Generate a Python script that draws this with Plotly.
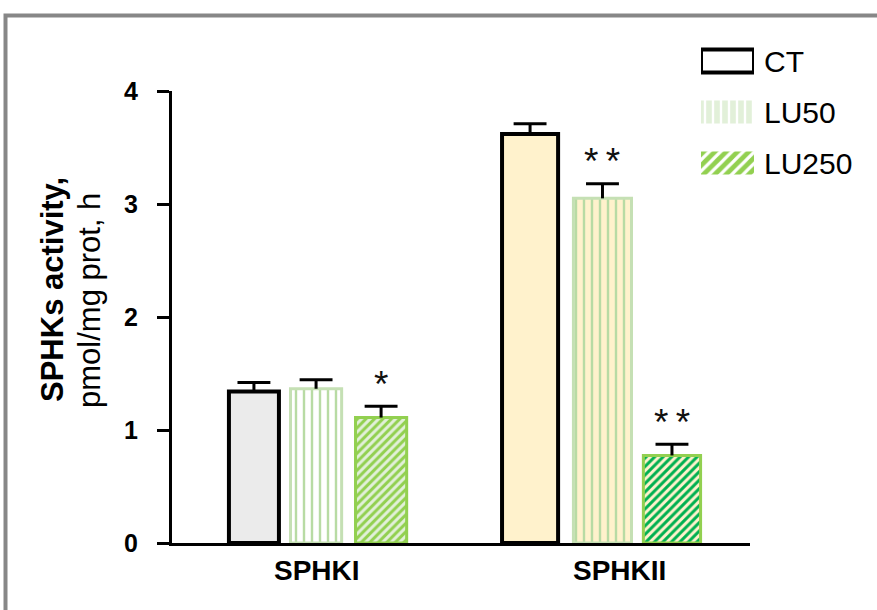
import plotly.graph_objects as go

# ---- data ----
categories = ["SPHKI", "SPHKII"]
series_names = ["CT", "LU50", "LU250"]
ct_values = [1.34, 3.62]
ct_errors = [0.08, 0.09]
lu50_values = [1.365, 3.05]
lu50_errors = [0.08, 0.13]
lu250_values = [1.11, 0.775]
lu250_errors = [0.10, 0.10]
ct_marks = ["", ""]
lu50_marks = ["", "*\u2009*"]
lu250_marks = ["*", "*\u2009*"]
y_ticks = [0, 1, 2, 3, 4]

FONT = "Arial, Liberation Sans, sans-serif"

fig = go.Figure()

bar_specs = [
    dict(name="CT", values=ct_values, errors=ct_errors, marks=ct_marks,
         offset=[-0.303, -0.358], width=[0.173, 0.194],
         marker=dict(color=["#ebebeb", "#fff2cc"],
                     line=dict(color="black", width=4))),
    dict(name="LU50", values=lu50_values, errors=lu50_errors, marks=lu50_marks,
         offset=[-0.09, -0.111], width=[0.177, 0.201],
         marker=dict(color="white",
                     line=dict(color="#c5e0b4", width=3),
                     pattern=dict(shape="|", bgcolor=["white", "#fff2cc"],
                                  fgcolor=["#b8dba4", "#b8dba4"], fgopacity=1,
                                  size=8, solidity=0.3))),
    dict(name="LU250", values=lu250_values, errors=lu250_errors, marks=lu250_marks,
         offset=[0.135, 0.131], width=[0.177, 0.198],
         marker=dict(color="#92d050",
                     line=dict(color="#92d050", width=3),
                     pattern=dict(shape="/", bgcolor=["#92d050", "#fff2cc"],
                                  fgcolor=["#e2f0d9", "#00b050"], fgopacity=1,
                                  size=6, solidity=0.5))),
]

annotations = []
for spec in bar_specs:
    centers = [i + o + w / 2 for i, (o, w) in enumerate(zip(spec["offset"], spec["width"]))]
    tops = [v + e for v, e in zip(spec["values"], spec["errors"])]
    # bars with the error stem (no caps)
    fig.add_trace(go.Bar(
        x=categories, y=spec["values"], name=spec["name"], showlegend=False,
        offset=spec["offset"], width=spec["width"], marker=spec["marker"],
        error_y=dict(type="data", symmetric=False, array=spec["errors"],
                     arrayminus=[0] * len(categories),
                     color="black", thickness=3, width=0),
        xaxis="x", yaxis="y",
    ))
    # upper caps of the error bars
    fig.add_trace(go.Scatter(
        x=centers, y=tops, mode="markers", showlegend=False, hoverinfo="skip",
        marker=dict(symbol="line-ew", size=23.5, color="black",
                    line=dict(color="black", width=3)),
        xaxis="x3", yaxis="y",
    ))
    for c, t, m in zip(centers, tops, spec["marks"]):
        if m:
            annotations.append(dict(
                x=c, y=t, xref="x3", yref="y", text=m, showarrow=False,
                xanchor="center", yanchor="middle", yshift=22,
                font=dict(family=FONT, size=37, color="#111"),
            ))

# ---- legend swatches drawn as bars on an auxiliary axis ----
fig.add_trace(go.Bar(
    x=[1, 1, 1], y=series_names, orientation="h", showlegend=False,
    width=0.45,
    marker=dict(
        color="white",
        line=dict(color=["black", "#e2f0d9", "#92d050"], width=[4, 0, 0]),
        pattern=dict(shape=["", "|", "/"],
                     bgcolor=["white", "#e2f0d9", "#92d050"],
                     fgcolor=["white", "white", "white"], fgopacity=1,
                     size=[8, 8, 8], solidity=[0.3, 0.3, 0.4]),
    ),
    xaxis="x2", yaxis="y2", hoverinfo="skip",
))

# category labels under the groups
label_shift = [0, 14]
for i, c in enumerate(categories):
    annotations.append(dict(
        x=i, y=0, xref="x", yref="y", text=f"<b>{c}</b>", showarrow=False,
        xanchor="center", yanchor="top", yshift=-10, xshift=label_shift[i],
        font=dict(family=FONT, size=28, color="black"),
    ))

# y axis title (two rotated lines)
annotations.append(dict(
    x=(52 - 172) / 705, y=(543 - 290) / 523, xref="paper", yref="paper",
    text="<b>SPHKs activity,</b>",
    textangle=-90, showarrow=False, xanchor="center", yanchor="middle",
    font=dict(family=FONT, size=31, color="black"),
))
annotations.append(dict(
    x=(89 - 172) / 705, y=(543 - 301) / 523, xref="paper", yref="paper",
    text="pmol/mg prot, h",
    textangle=-90, showarrow=False, xanchor="center", yanchor="middle",
    font=dict(family=FONT, size=31, color="black"),
))

fig.update_layout(
    width=877, height=610,
    margin=dict(l=172, r=0, t=20, b=67),
    paper_bgcolor="white", plot_bgcolor="rgba(0,0,0,0)",
    barmode="overlay",
    showlegend=False,
    font=dict(family=FONT, color="black"),
    xaxis=dict(
        domain=[0, 578 / 705], type="category", range=[-0.5, 1.5],
        showline=True, linecolor="black", linewidth=3,
        ticks="", showgrid=False, zeroline=False, showticklabels=False,
        automargin=False,
    ),
    xaxis3=dict(
        overlaying="x", anchor="y", range=[-0.5, 1.5], visible=False,
        automargin=False,
    ),
    yaxis=dict(
        domain=[0, 452 / 523], range=[0, 4], tickvals=y_ticks,
        showline=True, linecolor="black", linewidth=3,
        ticks="outside", ticklen=12, tickwidth=3, tickcolor="black",
        showgrid=False, zeroline=False,
        tickfont=dict(family=FONT, size=25, color="black", weight="bold"),
        ticklabelstandoff=14, automargin=False,
    ),
    xaxis2=dict(
        domain=[(701 - 172) / 705, (754 - 172) / 705], range=[0, 1],
        anchor="y2", visible=False, fixedrange=True, automargin=False,
    ),
    yaxis2=dict(
        domain=[(543 - 188.5) / 523, (543 - 35.5) / 523],
        anchor="x2", side="right", type="category",
        categoryorder="array", categoryarray=series_names, range=[2.5, -0.5],
        showline=False, showgrid=False, zeroline=False, ticks="",
        tickfont=dict(family=FONT, size=30, color="black"),
        ticklabelstandoff=9, automargin=False,
    ),
    annotations=annotations,
    shapes=[dict(
        type="rect", xref="paper", yref="paper",
        x0=(5.5 - 172) / 705, x1=(890 - 172) / 705,
        y0=(543 - 620) / 523, y1=(543 - 15.5) / 523,
        line=dict(color="#878787", width=4), fillcolor="rgba(0,0,0,0)",
        layer="below",
    )],
)

fig.write_html(
    "out.html",
    config={"displayModeBar": False},
    post_script="document.body.style.margin='0';document.body.style.overflow='hidden';",
)
